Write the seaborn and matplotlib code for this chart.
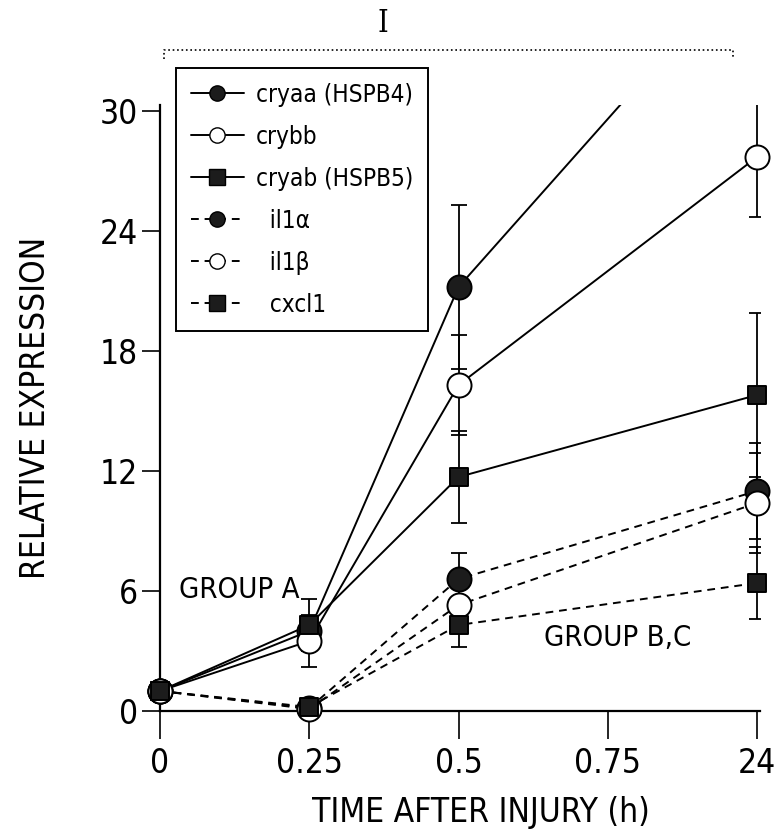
import numpy as np
import matplotlib
matplotlib.use("Agg")
import matplotlib.pyplot as plt
import seaborn as sns
from matplotlib.lines import Line2D
from matplotlib import font_manager

# tick labels of the categorical time axis
time_labels = ["0", "0.25", "0.5", "0.75", "24"]
# sampled time points
sampled = ["0", "0.25", "0.5", "24"]

# crystallin genes (solid lines)
cryaa = [1.0, 4.0, 21.2, 38.0]
cryaa_err = [0, 0, 4.1, 0]
crybb = [1.0, 3.5, 16.3, 27.7]
crybb_err = [0, 1.3, 2.5, 3.0]
cryab = [1.0, 4.3, 11.7, 15.8]
cryab_err = [0, 1.3, 2.3, 4.1]

# inflammatory genes (dashed lines)
il1a = [1.0, 0.15, 6.6, 11.0]
il1a_err = [0, 0, 1.3, 2.4]
il1b = [1.0, 0.1, 5.3, 10.4]
il1b_err = [0, 0, 1.0, 2.5]
cxcl1 = [1.0, 0.2, 4.3, 6.4]
cxcl1_err = [0, 0, 1.1, 1.8]

sns.set_style("ticks", {"axes.edgecolor": "black", "text.color": "black",
                        "xtick.color": "black", "ytick.color": "black",
                        "axes.labelcolor": "black"})
names = {f.name for f in font_manager.fontManager.ttflist}
if "Liberation Sans Narrow" in names:
    plt.rcParams["font.family"] = ["Liberation Sans Narrow", "DejaVu Sans"]
else:
    plt.rcParams["font.family"] = ["DejaVu Sans"]
    plt.rcParams["font.stretch"] = "condensed"

DARK = "#1c1c1c"
xs = np.array([time_labels.index(t) for t in sampled], dtype=float)

fig = plt.figure(figsize=(7.75, 8.38), dpi=100)
ax = fig.add_axes([160 / 775, 1 - 711 / 838, 600 / 775, 606 / 838])

series = [
    (cryaa, cryaa_err, "-", "o", DARK, "cryaa (HSPB4)"),
    (crybb, crybb_err, "-", "o", "white", "crybb"),
    (cryab, cryab_err, "-", "s", DARK, "cryab (HSPB5)"),
    (il1a, il1a_err, (0, (4, 3)), "o", DARK, "  il1\u03b1"),
    (il1b, il1b_err, (0, (4, 3)), "o", "white", "  il1\u03b2"),
    (cxcl1, cxcl1_err, (0, (4, 3)), "s", DARK, "  cxcl1"),
]

handles = []
for vals, errs, ls, mk, fc, lab in series:
    vals = np.array(vals)
    errs = np.array(errs, dtype=float)
    sns.lineplot(x=xs, y=vals, ax=ax, color="black", linestyle=ls,
                 linewidth=1.4, legend=False, zorder=2)
    m = errs > 0
    ax.errorbar(xs[m], vals[m], yerr=errs[m], fmt="none", ecolor="black",
                elinewidth=1.3, capsize=6, capthick=1.3, zorder=2)
    handles.append(Line2D([], [], color="black", linestyle=ls, linewidth=1.4,
                          marker=mk, markersize=11, markerfacecolor=fc,
                          markeredgecolor="black", label=lab))

for vals, errs, ls, mk, fc, lab in series:
    vals = np.array(vals)
    size = 300 if mk == "o" else 150
    if vals[-1] > 30.3:
        xp, yp = xs[:-1], vals[:-1]
    else:
        xp, yp = xs, vals
    sns.scatterplot(x=xp, y=yp, ax=ax, marker=mk, s=size, color=fc,
                    edgecolor="black", linewidth=1.4, clip_on=False,
                    zorder=4, legend=False)

ax.set_xlim(0, 4.02)
ax.set_ylim(0, 30.3)
ax.set_xticks(range(len(time_labels)))
ax.set_xticklabels(time_labels)
ax.set_yticks([0, 6, 12, 18, 24, 30])
ax.tick_params(axis="x", length=20, width=1.2, pad=6, labelsize=24)
ax.tick_params(axis="y", length=13, width=1.2, pad=3, labelsize=24)
sns.despine(ax=ax)
for s in ["left", "bottom"]:
    ax.spines[s].set_linewidth(1.6)

ax.set_xlabel("TIME AFTER INJURY (h)", fontsize=24)
ax.xaxis.set_label_coords(0.535, -0.14)
ax.set_ylabel("RELATIVE EXPRESSION", fontsize=24)
ax.yaxis.set_label_coords(-0.18, 0.5)

ax.text(0.13, 6.05, "GROUP A", fontsize=21, va="center", ha="left")
ax.text(2.57, 3.65, "GROUP B,C", fontsize=21, va="center", ha="left")

# bracket over the plot
ax.plot([0.03, 0.03, 3.84, 3.84], [32.6, 33.05, 33.05, 32.6], color="black",
        linestyle=":", linewidth=1.2, clip_on=False)
ax.text(1.49, 34.4, "I", fontsize=22, family="DejaVu Serif",
        ha="center", va="center")

leg = fig.legend(handles=handles, loc="upper left",
                 bbox_to_anchor=(176 / 775, 1 - 68 / 838), fontsize=17.5,
                 frameon=True, fancybox=False, edgecolor="black",
                 framealpha=1, handlelength=2.2, handletextpad=0.5,
                 labelspacing=0.74, borderpad=0.6, borderaxespad=0)
leg.get_frame().set_linewidth(1.4)

fig.savefig("out.png", dpi=100)
